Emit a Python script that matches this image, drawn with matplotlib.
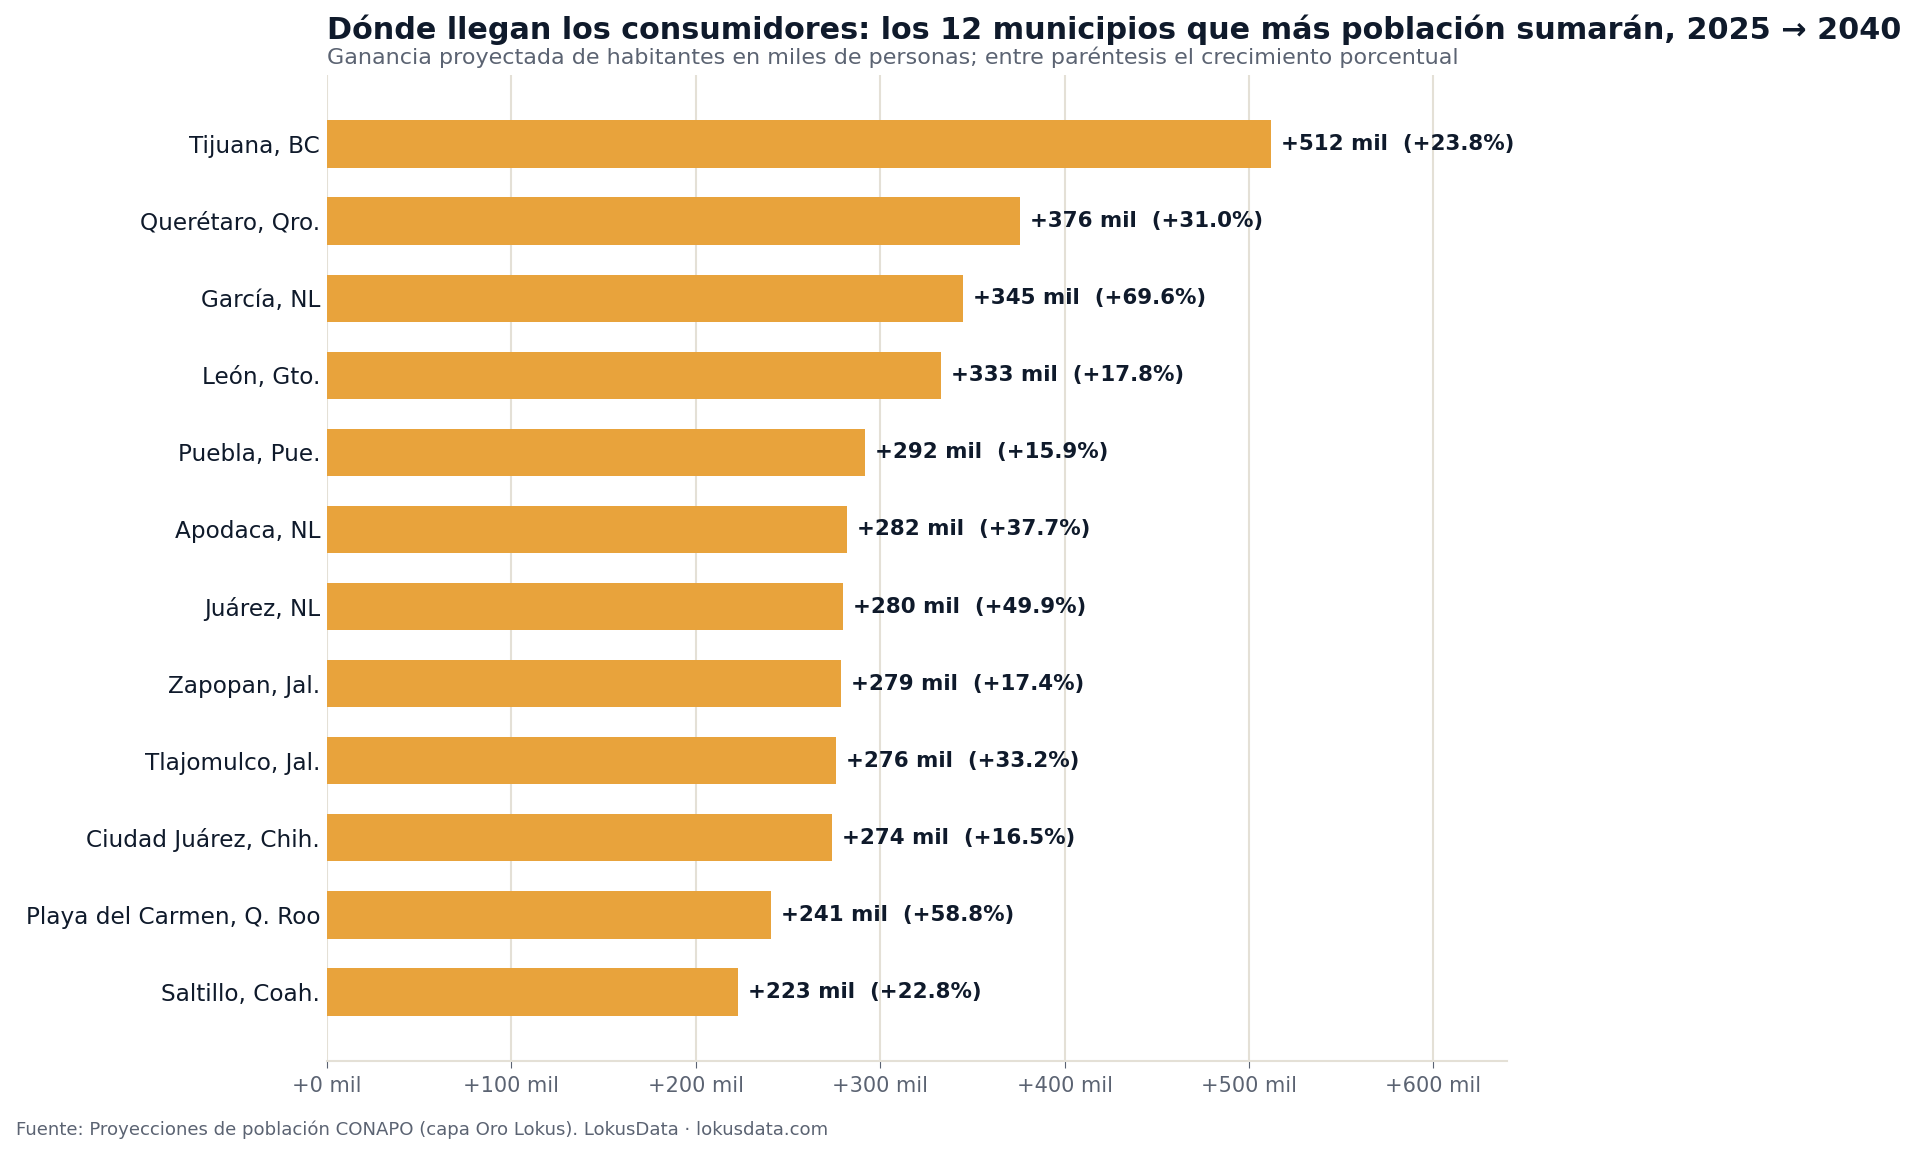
import matplotlib.pyplot as plt
from matplotlib.ticker import FuncFormatter

# ── Data ──────────────────────────────────────────────────────
municipios = [
    "Tijuana, BC", "Querétaro, Qro.", "García, NL", "León, Gto.",
    "Puebla, Pue.", "Apodaca, NL", "Juárez, NL", "Zapopan, Jal.",
    "Tlajomulco, Jal.", "Ciudad Juárez, Chih.", "Playa del Carmen, Q. Roo",
    "Saltillo, Coah.",
]
ganancia_miles = [512, 376, 345, 333, 292, 282, 280, 279, 276, 274, 241, 223]
crecimiento_pct = [23.8, 31.0, 69.6, 17.8, 15.9, 37.7, 49.9, 17.4, 33.2, 16.5, 58.8, 22.8]

BAR = "#E8A33C"
INK = "#0f1a2b"
MUTED = "#5b6372"
GRID = "#e4e0d6"

fig = plt.figure(figsize=(19.17, 11.54), dpi=100)
ax = fig.add_axes([327 / 1917, 1 - 1061 / 1154, (1507 - 327) / 1917, (1061 - 75) / 1154])

y = list(range(len(municipios)))
ax.barh(y, ganancia_miles, height=0.62, color=BAR, zorder=2)

for yi, v, p in zip(y, ganancia_miles, crecimiento_pct):
    ax.annotate(f"+{v} mil  (+{p:.1f}%)", xy=(v, yi), xytext=(7, 0),
                textcoords="offset points", va="center", ha="left",
                fontsize=15.4, fontweight="bold", color=INK)

ax.set_yticks(y)
ax.set_yticklabels(municipios, fontsize=16.7, color=INK)
ax.set_ylim(len(municipios) - 0.1, -0.9)
ax.set_xlim(0, 640)
ax.set_xticks(range(0, 601, 100))
ax.xaxis.set_major_formatter(FuncFormatter(lambda x, _: f"+{x:.0f} mil"))
ax.tick_params(axis="x", labelsize=15, colors=MUTED, length=5, color=MUTED, pad=6)
ax.tick_params(axis="y", length=0, pad=5)

ax.grid(axis="x", color=GRID, linewidth=1.5, zorder=0)
ax.set_axisbelow(True)
for s in ["top", "right", "left"]:
    ax.spines[s].set_visible(False)
ax.spines["bottom"].set_color(GRID)
ax.spines["bottom"].set_linewidth(1.5)

fig.text(327 / 1917, 1 - 30 / 1154, "Dónde llegan los consumidores: los 12 municipios que más población sumarán, 2025 → 2040",
         fontsize=21.8, fontweight="bold", color=INK, ha="left", va="center")
fig.text(327 / 1917, 1 - 57 / 1154, "Ganancia proyectada de habitantes en miles de personas; entre paréntesis el crecimiento porcentual",
         fontsize=16, color=MUTED, ha="left", va="center")
fig.text(16 / 1917, 1 - 1130 / 1154, "Fuente: Proyecciones de población CONAPO (capa Oro Lokus). LokusData · lokusdata.com",
         fontsize=13.1, color=MUTED, ha="left", va="center")

fig.savefig("out.png", dpi=100, facecolor="white")
